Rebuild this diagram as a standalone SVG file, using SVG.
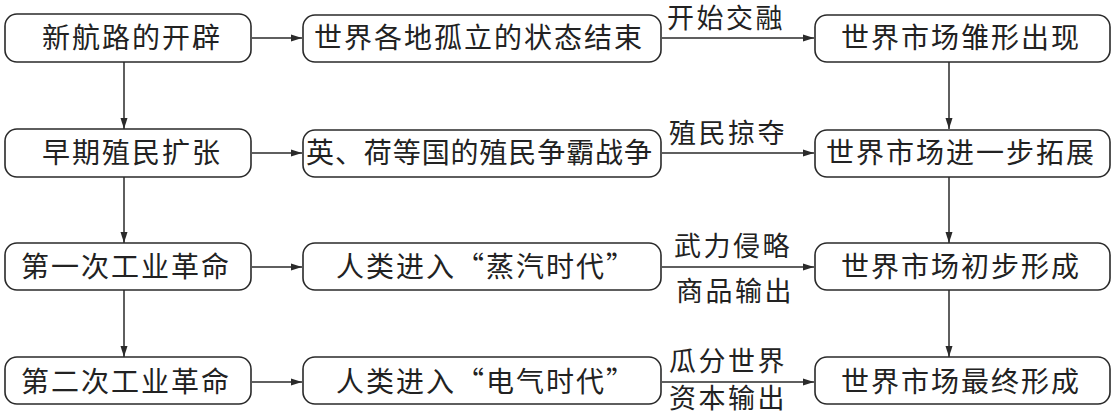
<svg xmlns="http://www.w3.org/2000/svg" width="1117" height="420" viewBox="0 0 1117 420">
<style>
.box{fill:#fff;stroke:#2a2a2a;stroke-width:1.6}
.t{font-family:"Noto Sans CJK SC","Noto Sans CJK TC",sans-serif;font-size:28px;fill:#222;letter-spacing:2px}
.lbl{font-family:"Noto Sans CJK SC","Noto Sans CJK TC",sans-serif;font-size:27px;fill:#222;letter-spacing:2.5px}
.c{stroke:#2a2a2a;stroke-width:1.5;fill:none;marker-end:url(#ah)}
</style>
<defs>
<marker id="ah" markerUnits="userSpaceOnUse" markerWidth="12" markerHeight="8" refX="11" refY="4" orient="auto">
<path d="M0,0.5 L11,4 L0,7.5 Z" fill="#2a2a2a"/>
</marker>
</defs>
<rect width="1117" height="420" fill="#fff"/>
<g id="connectors">
<line class="c" x1="252" y1="38" x2="302" y2="38"/>
<line class="c" x1="252" y1="153" x2="302" y2="153"/>
<line class="c" x1="252" y1="267" x2="302" y2="267"/>
<line class="c" x1="252" y1="382" x2="302" y2="382"/>
<line class="c" x1="662" y1="38" x2="814" y2="38"/>
<line class="c" x1="662" y1="153" x2="814" y2="153"/>
<line class="c" x1="662" y1="267" x2="814" y2="267"/>
<line class="c" x1="662" y1="382" x2="814" y2="382"/>
<line class="c" x1="124" y1="62" x2="124" y2="129"/>
<line class="c" x1="124" y1="177" x2="124" y2="243"/>
<line class="c" x1="124" y1="290" x2="124" y2="357"/>
<line class="c" x1="949" y1="62" x2="949" y2="129"/>
<line class="c" x1="949" y1="177" x2="949" y2="243"/>
<line class="c" x1="949" y1="290" x2="949" y2="357"/>
<text class="lbl" x="667" y="28">开始交融</text>
<text class="lbl" x="669" y="143">殖民掠夺</text>
<text class="lbl" x="674" y="256">武力侵略</text>
<text class="lbl" x="676" y="301">商品输出</text>
<text class="lbl" x="669" y="371">瓜分世界</text>
<text class="lbl" x="669" y="408">资本输出</text>
</g>
<g id="n1"><rect class="box" x="5" y="14" width="246" height="48" rx="12"/><text class="t" x="42" y="48">新航路的开辟</text></g>
<g id="n2"><rect class="box" x="5" y="129" width="246" height="48" rx="12"/><text class="t" x="42" y="163">早期殖民扩张</text></g>
<g id="n3"><rect class="box" x="5" y="243" width="246" height="47" rx="12"/><text class="t" x="21" y="277">第一次工业革命</text></g>
<g id="n4"><rect class="box" x="5" y="357" width="246" height="47" rx="12"/><text class="t" x="21" y="392">第二次工业革命</text></g>
<g id="n5"><rect class="box" x="303" y="15" width="358" height="47" rx="12"/><text class="t" x="314" y="48">世界各地孤立的状态结束</text></g>
<g id="n6"><rect class="box" x="303" y="130" width="358" height="47" rx="12"/><text class="t" x="306" y="163" textLength="346" lengthAdjust="spacing" style="letter-spacing:0">英、荷等国的殖民争霸战争</text></g>
<g id="n7"><rect class="box" x="303" y="243" width="358" height="47" rx="12"/><text class="t" x="336" y="277">人类进入“蒸汽时代”</text></g>
<g id="n8"><rect class="box" x="303" y="357" width="358" height="47" rx="12"/><text class="t" x="336" y="392">人类进入“电气时代”</text></g>
<g id="n9"><rect class="box" x="815" y="15" width="295" height="47" rx="12"/><text class="t" x="841" y="48">世界市场雏形出现</text></g>
<g id="n10"><rect class="box" x="815" y="130" width="295" height="47" rx="12"/><text class="t" x="826" y="163">世界市场进一步拓展</text></g>
<g id="n11"><rect class="box" x="815" y="243" width="295" height="47" rx="12"/><text class="t" x="841" y="277">世界市场初步形成</text></g>
<g id="n12"><rect class="box" x="815" y="357" width="295" height="47" rx="12"/><text class="t" x="841" y="392">世界市场最终形成</text></g>
</svg>
